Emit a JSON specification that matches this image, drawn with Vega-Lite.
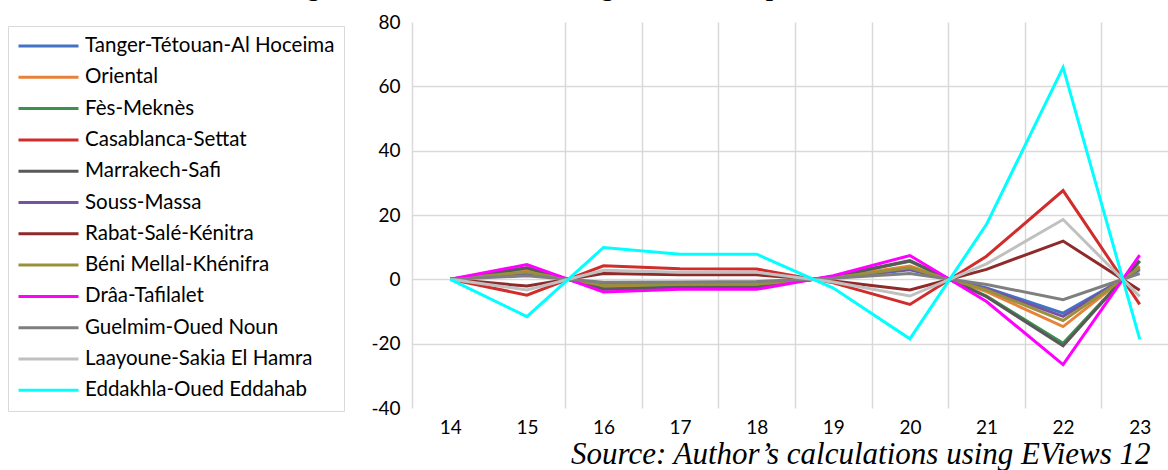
{
  "$schema": "https://vega.github.io/schema/vega-lite/v6.json",
  "width": 766,
  "height": 386,
  "autosize": {"type": "none"},
  "padding": {"left": 412, "top": 22, "right": 0, "bottom": 62},
  "background": "white",
  "title": {
    "text": "Figure 3: The evolution of regional trade exposure between 2014 and 2023",
    "font": "Liberation Serif",
    "fontSize": 26,
    "fontWeight": "bold",
    "color": "#000",
    "anchor": "start",
    "frame": "group",
    "dx": -128,
    "dy": 12,
    "baseline": "alphabetic",
    "offset": 3
  },
  "config": {"view": {"stroke": null}, "font": "Lato"},
  "data": {
    "values": [
      {"year": "14", "region": "Tanger-Tétouan-Al Hoceima", "value": 0},
      {"year": "15", "region": "Tanger-Tétouan-Al Hoceima", "value": 1.9},
      {"year": "16", "region": "Tanger-Tétouan-Al Hoceima", "value": -1.6},
      {"year": "17", "region": "Tanger-Tétouan-Al Hoceima", "value": -1.2},
      {"year": "18", "region": "Tanger-Tétouan-Al Hoceima", "value": -1.3},
      {"year": "19", "region": "Tanger-Tétouan-Al Hoceima", "value": 0.4},
      {"year": "20", "region": "Tanger-Tétouan-Al Hoceima", "value": 3.0},
      {"year": "21", "region": "Tanger-Tétouan-Al Hoceima", "value": -2.7},
      {"year": "22", "region": "Tanger-Tétouan-Al Hoceima", "value": -10.5},
      {"year": "23", "region": "Tanger-Tétouan-Al Hoceima", "value": 3.0},
      {"year": "14", "region": "Oriental", "value": 0},
      {"year": "15", "region": "Oriental", "value": 2.6},
      {"year": "16", "region": "Oriental", "value": -2.2},
      {"year": "17", "region": "Oriental", "value": -1.7},
      {"year": "18", "region": "Oriental", "value": -1.8},
      {"year": "19", "region": "Oriental", "value": 0.6},
      {"year": "20", "region": "Oriental", "value": 4.1},
      {"year": "21", "region": "Oriental", "value": -3.8},
      {"year": "22", "region": "Oriental", "value": -14.7},
      {"year": "23", "region": "Oriental", "value": 4.1},
      {"year": "14", "region": "Fès-Meknès", "value": 0},
      {"year": "15", "region": "Fès-Meknès", "value": 3.5},
      {"year": "16", "region": "Fès-Meknès", "value": -3.0},
      {"year": "17", "region": "Fès-Meknès", "value": -2.4},
      {"year": "18", "region": "Fès-Meknès", "value": -2.3},
      {"year": "19", "region": "Fès-Meknès", "value": 0.8},
      {"year": "20", "region": "Fès-Meknès", "value": 5.6},
      {"year": "21", "region": "Fès-Meknès", "value": -5.2},
      {"year": "22", "region": "Fès-Meknès", "value": -19.9},
      {"year": "23", "region": "Fès-Meknès", "value": 5.6},
      {"year": "14", "region": "Casablanca-Settat", "value": 0},
      {"year": "15", "region": "Casablanca-Settat", "value": -4.9},
      {"year": "16", "region": "Casablanca-Settat", "value": 4.2},
      {"year": "17", "region": "Casablanca-Settat", "value": 3.3},
      {"year": "18", "region": "Casablanca-Settat", "value": 3.2},
      {"year": "19", "region": "Casablanca-Settat", "value": -1.1},
      {"year": "20", "region": "Casablanca-Settat", "value": -7.8},
      {"year": "21", "region": "Casablanca-Settat", "value": 7.2},
      {"year": "22", "region": "Casablanca-Settat", "value": 27.6},
      {"year": "23", "region": "Casablanca-Settat", "value": -7.8},
      {"year": "14", "region": "Marrakech-Safi", "value": 0},
      {"year": "15", "region": "Marrakech-Safi", "value": 3.6},
      {"year": "16", "region": "Marrakech-Safi", "value": -3.1},
      {"year": "17", "region": "Marrakech-Safi", "value": -2.5},
      {"year": "18", "region": "Marrakech-Safi", "value": -2.4},
      {"year": "19", "region": "Marrakech-Safi", "value": 0.9},
      {"year": "20", "region": "Marrakech-Safi", "value": 5.8},
      {"year": "21", "region": "Marrakech-Safi", "value": -5.4},
      {"year": "22", "region": "Marrakech-Safi", "value": -20.7},
      {"year": "23", "region": "Marrakech-Safi", "value": 5.8},
      {"year": "14", "region": "Souss-Massa", "value": 0},
      {"year": "15", "region": "Souss-Massa", "value": 2.0},
      {"year": "16", "region": "Souss-Massa", "value": -1.7},
      {"year": "17", "region": "Souss-Massa", "value": -1.4},
      {"year": "18", "region": "Souss-Massa", "value": -1.4},
      {"year": "19", "region": "Souss-Massa", "value": 0.5},
      {"year": "20", "region": "Souss-Massa", "value": 3.2},
      {"year": "21", "region": "Souss-Massa", "value": -3.0},
      {"year": "22", "region": "Souss-Massa", "value": -11.5},
      {"year": "23", "region": "Souss-Massa", "value": 3.3},
      {"year": "14", "region": "Rabat-Salé-Kénitra", "value": 0},
      {"year": "15", "region": "Rabat-Salé-Kénitra", "value": -2.1},
      {"year": "16", "region": "Rabat-Salé-Kénitra", "value": 1.8},
      {"year": "17", "region": "Rabat-Salé-Kénitra", "value": 1.4},
      {"year": "18", "region": "Rabat-Salé-Kénitra", "value": 1.4},
      {"year": "19", "region": "Rabat-Salé-Kénitra", "value": -0.5},
      {"year": "20", "region": "Rabat-Salé-Kénitra", "value": -3.3},
      {"year": "21", "region": "Rabat-Salé-Kénitra", "value": 3.1},
      {"year": "22", "region": "Rabat-Salé-Kénitra", "value": 11.9},
      {"year": "23", "region": "Rabat-Salé-Kénitra", "value": -3.4},
      {"year": "14", "region": "Béni Mellal-Khénifra", "value": 0},
      {"year": "15", "region": "Béni Mellal-Khénifra", "value": 2.3},
      {"year": "16", "region": "Béni Mellal-Khénifra", "value": -1.9},
      {"year": "17", "region": "Béni Mellal-Khénifra", "value": -1.5},
      {"year": "18", "region": "Béni Mellal-Khénifra", "value": -1.5},
      {"year": "19", "region": "Béni Mellal-Khénifra", "value": 0.5},
      {"year": "20", "region": "Béni Mellal-Khénifra", "value": 3.6},
      {"year": "21", "region": "Béni Mellal-Khénifra", "value": -3.3},
      {"year": "22", "region": "Béni Mellal-Khénifra", "value": -12.8},
      {"year": "23", "region": "Béni Mellal-Khénifra", "value": 3.6},
      {"year": "14", "region": "Drâa-Tafilalet", "value": 0},
      {"year": "15", "region": "Drâa-Tafilalet", "value": 4.6},
      {"year": "16", "region": "Drâa-Tafilalet", "value": -3.9},
      {"year": "17", "region": "Drâa-Tafilalet", "value": -3.1},
      {"year": "18", "region": "Drâa-Tafilalet", "value": -3.1},
      {"year": "19", "region": "Drâa-Tafilalet", "value": 1.1},
      {"year": "20", "region": "Drâa-Tafilalet", "value": 7.4},
      {"year": "21", "region": "Drâa-Tafilalet", "value": -6.9},
      {"year": "22", "region": "Drâa-Tafilalet", "value": -26.5},
      {"year": "23", "region": "Drâa-Tafilalet", "value": 7.5},
      {"year": "14", "region": "Guelmim-Oued Noun", "value": 0},
      {"year": "15", "region": "Guelmim-Oued Noun", "value": 1.1},
      {"year": "16", "region": "Guelmim-Oued Noun", "value": -0.9},
      {"year": "17", "region": "Guelmim-Oued Noun", "value": -0.8},
      {"year": "18", "region": "Guelmim-Oued Noun", "value": -0.7},
      {"year": "19", "region": "Guelmim-Oued Noun", "value": 0.3},
      {"year": "20", "region": "Guelmim-Oued Noun", "value": 1.8},
      {"year": "21", "region": "Guelmim-Oued Noun", "value": -1.6},
      {"year": "22", "region": "Guelmim-Oued Noun", "value": -6.3},
      {"year": "23", "region": "Guelmim-Oued Noun", "value": 1.8},
      {"year": "14", "region": "Laayoune-Sakia El Hamra", "value": 0},
      {"year": "15", "region": "Laayoune-Sakia El Hamra", "value": -3.3},
      {"year": "16", "region": "Laayoune-Sakia El Hamra", "value": 2.8},
      {"year": "17", "region": "Laayoune-Sakia El Hamra", "value": 2.2},
      {"year": "18", "region": "Laayoune-Sakia El Hamra", "value": 2.2},
      {"year": "19", "region": "Laayoune-Sakia El Hamra", "value": -0.8},
      {"year": "20", "region": "Laayoune-Sakia El Hamra", "value": -5.2},
      {"year": "21", "region": "Laayoune-Sakia El Hamra", "value": 4.8},
      {"year": "22", "region": "Laayoune-Sakia El Hamra", "value": 18.6},
      {"year": "23", "region": "Laayoune-Sakia El Hamra", "value": -5.3},
      {"year": "14", "region": "Eddakhla-Oued Eddahab", "value": 0},
      {"year": "15", "region": "Eddakhla-Oued Eddahab", "value": -11.6},
      {"year": "16", "region": "Eddakhla-Oued Eddahab", "value": 9.9},
      {"year": "17", "region": "Eddakhla-Oued Eddahab", "value": 7.8},
      {"year": "18", "region": "Eddakhla-Oued Eddahab", "value": 7.8},
      {"year": "19", "region": "Eddakhla-Oued Eddahab", "value": -2.7},
      {"year": "20", "region": "Eddakhla-Oued Eddahab", "value": -18.5},
      {"year": "21", "region": "Eddakhla-Oued Eddahab", "value": 17.1},
      {"year": "22", "region": "Eddakhla-Oued Eddahab", "value": 65.9},
      {"year": "23", "region": "Eddakhla-Oued Eddahab", "value": -18.6}
    ]
  },
  "encoding": {
    "x": {
      "field": "year",
      "type": "ordinal",
      "scale": {"type": "band", "paddingInner": 0, "paddingOuter": 0},
      "bandPosition": 0.5,
      "axis": {
        "labelAngle": 0,
        "domain": false,
        "ticks": false,
        "grid": true,
        "tickBand": "extent",
        "gridColor": "#d9d9d9",
        "gridWidth": 1.5,
        "gridOpacity": {"condition": {"test": "datum.value === '14'", "value": 0}, "value": 1},
        "labelFont": "Lato",
        "labelFontSize": 19,
        "labelColor": "#000",
        "labelPadding": 10,
        "title": "Source: Author’s calculations using EViews 12",
        "titleFont": "Liberation Serif",
        "titleFontSize": 31,
        "titleFontStyle": "italic",
        "titleFontWeight": "normal",
        "titleColor": "#000",
        "titleAnchor": "end",
        "titleAlign": "right",
        "titleX": 738,
        "titlePadding": 2
      }
    },
    "y": {
      "field": "value",
      "type": "quantitative",
      "scale": {"domain": [-40, 80], "nice": false, "zero": false},
      "axis": {
        "values": [-40, -20, 0, 20, 40, 60, 80],
        "labelExpr": "'' + datum.value",
        "domain": false,
        "ticks": false,
        "gridColor": "#d9d9d9",
        "gridWidth": 1.5,
        "gridOpacity": {"condition": {"test": "datum.value === 80 || datum.value === -40", "value": 0}, "value": 1},
        "labelFont": "Lato",
        "labelFontSize": 19,
        "labelColor": "#000",
        "labelPadding": 12,
        "title": null
      }
    }
  },
  "layer": [
    {
      "data": {"values": [{}]},
      "mark": {"type": "rule", "color": "#bfbfbf", "strokeWidth": 2},
      "encoding": {"y": {"datum": 0}, "x": null}
    },
    {
      "mark": {"type": "line", "strokeWidth": 3},
      "encoding": {
        "color": {
          "field": "region",
          "type": "nominal",
          "sort": null,
          "scale": {
            "domain": ["Tanger-Tétouan-Al Hoceima", "Oriental", "Fès-Meknès", "Casablanca-Settat", "Marrakech-Safi", "Souss-Massa", "Rabat-Salé-Kénitra", "Béni Mellal-Khénifra", "Drâa-Tafilalet", "Guelmim-Oued Noun", "Laayoune-Sakia El Hamra", "Eddakhla-Oued Eddahab"],
            "range": ["#4472C4", "#E8823A", "#3A9150", "#D02C2C", "#595959", "#7453A4", "#8E2A2A", "#998F3C", "#FF00FF", "#7F7F7F", "#C0C0C0", "#00FFFF"]
          },
          "legend": {
            "orient": "none",
            "legendX": -404,
            "legendY": 4,
            "title": null,
            "symbolType": "stroke",
            "symbolSize": 3600,
            "symbolStrokeWidth": 3,
            "clipHeight": 22,
            "labelFont": "Lato",
            "labelFontSize": 20.5,
            "labelColor": "#000",
            "labelOffset": 5,
            "labelLimit": 400,
            "padding": 9,
            "strokeColor": "#d9d9d9",
            "rowPadding": 9.3
          }
        }
      }
    }
  ]
}
